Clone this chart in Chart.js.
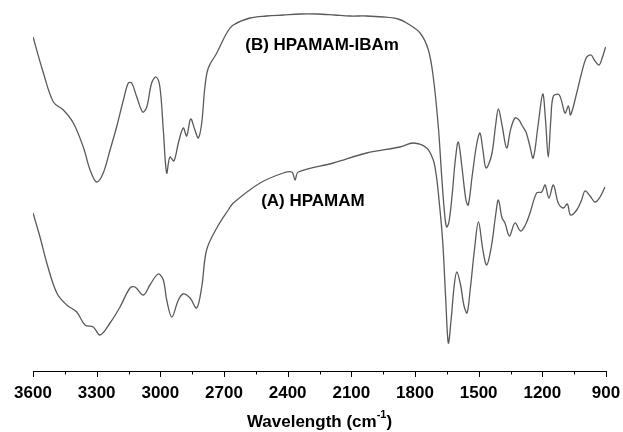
<!DOCTYPE html>
<html>
<head>
<meta charset="utf-8">
<script src="https://cdn.jsdelivr.net/npm/chart.js@4"></script>
<style>
html,body{margin:0;padding:0;background:#fff;}
#wrap{width:623px;height:432px;}
</style>
</head>
<body>
<div id="wrap"><canvas id="c" width="623" height="432"></canvas></div>
<script>
// Wavenumbers (cm-1) and transmittance (arbitrary units)
const wavenumbersB = [3600,3551,3504,3457,3410,3363,3331,3300,3269,3237,3206,3174,3151,3135,3111,3083,3064,3041,3020,3002,2986,2970,2955,2936,2915,2892,2876,2857,2837,2821,2805,2790,2774,2734,2687,2656,2577,2500,2421,2340,2263,2180,2106,2030,1949,1880,1839,1776,1737,1714,1690,1674,1660,1651,1640,1625,1610,1596,1580,1560,1549,1530,1510,1494,1480,1465,1439,1420,1407,1390,1368,1350,1329,1310,1297,1277,1260,1243,1220,1198,1185,1172,1160,1148,1120,1093,1077,1067,1038,1015,991,970,955,933,918,902];
const transB = [334,298,269,261,248,224,201,189,198,221,244,271,288,288,274,259,264,288,294,284,241,198,214,210,228,243,235,252,241,233,248,284,303,318,338,346,353,355,356,357,357,356,355,355,354,352,348,338,321,294,244,194,156,144,149,176,211,229,206,171,166,196,226,238,221,203,216,246,262,246,223,241,253,251,246,239,226,213,246,277,251,214,251,275,276,258,265,256,278,298,314,316,311,306,313,324];
const wavenumbersA = [3600,3567,3535,3488,3441,3394,3355,3316,3284,3237,3190,3143,3119,3080,3049,3010,2986,2970,2946,2915,2892,2860,2829,2805,2782,2734,2680,2656,2530,2421,2380,2365,2350,2185,2028,1871,1808,1745,1714,1700,1690,1670,1655,1643,1630,1615,1603,1585,1570,1555,1540,1520,1501,1480,1462,1439,1420,1407,1390,1376,1355,1329,1302,1280,1258,1227,1203,1187,1169,1148,1125,1101,1082,1067,1038,1015,999,975,952,928,905];
const transA = [158,134,108,78,66,59,46,44,36,48,64,83,84,76,86,97,91,71,54,71,77,73,63,84,121,143,161,168,188,198,199,191,199,208,218,224,228,223,211,196,178,131,71,28,51,86,99,86,66,58,81,121,149,121,106,126,156,171,153,148,135,148,140,146,158,178,179,186,173,186,168,163,167,156,161,171,180,175,169,174,184];
const xTickValues = [3600,3300,3000,2700,2400,2100,1800,1500,1200,900];
const seriesLabels = ["(A) HPAMAM", "(B) HPAMAM-IBAm"];
const xTitle = "Wavelength (cm";
const xTitleSup = "-1";

const toPts = (xs, ys) => xs.map((x, i) => ({x: x, y: ys[i]}));
const FONT = '"Liberation Sans", Arial, sans-serif';

const overlay = {
  id: 'overlay',
  afterDraw(chart) {
    const ctx = chart.ctx;
    const xs = chart.scales.x, ys = chart.scales.y;
    const axisY = chart.chartArea.bottom;
    ctx.save();
    ctx.strokeStyle = '#000';
    ctx.lineWidth = 1;
    for (let v = 900; v <= 3600; v += 150) {
      const px = Math.round(xs.getPixelForValue(v)) + 0.5;
      const major = (v % 300 === 0);
      ctx.beginPath();
      ctx.moveTo(px, axisY);
      ctx.lineTo(px, axisY + (major ? 6 : 3.5));
      ctx.stroke();
    }
    ctx.fillStyle = '#000';
    ctx.font = 'bold 17px ' + FONT;
    ctx.textAlign = 'center';
    ctx.textBaseline = 'middle';
    ctx.fillText(seriesLabels[1], xs.getPixelForValue(2238), ys.getPixelForValue(326));
    ctx.fillText(seriesLabels[0], xs.getPixelForValue(2281), ys.getPixelForValue(170));
    const cx = (chart.chartArea.left + chart.chartArea.right) / 2;
    const ty = 422;
    ctx.font = 'bold 17px ' + FONT;
    const w1 = ctx.measureText(xTitle).width;
    ctx.font = 'bold 11px ' + FONT;
    const w2 = ctx.measureText(xTitleSup).width;
    ctx.font = 'bold 17px ' + FONT;
    const w3 = ctx.measureText(')').width;
    const total = w1 + w2 + w3;
    let x0 = cx - total / 2;
    ctx.textAlign = 'left';
    ctx.fillText(xTitle, x0, ty);
    ctx.font = 'bold 11px ' + FONT;
    ctx.fillText(xTitleSup, x0 + w1, ty - 7);
    ctx.font = 'bold 17px ' + FONT;
    ctx.fillText(')', x0 + w1 + w2, ty);
    ctx.restore();
  }
};

new Chart(document.getElementById('c'), {
  type: 'line',
  data: {
    datasets: [
      {label: seriesLabels[1], data: toPts(wavenumbersB, transB), borderColor: '#5a5a5a', borderWidth: 1.3, pointRadius: 0, tension: 0.35, fill: false},
      {label: seriesLabels[0], data: toPts(wavenumbersA, transA), borderColor: '#5a5a5a', borderWidth: 1.3, pointRadius: 0, tension: 0.35, fill: false}
    ]
  },
  options: {
    responsive: false,
    animation: false,
    events: [],
    layout: {padding: {left: 33, right: 17, top: 5, bottom: 0}},
    plugins: {legend: {display: false}, tooltip: {enabled: false}, title: {display: false}},
    scales: {
      x: {
        type: 'linear',
        reverse: true,
        min: 900, max: 3600,
        afterBuildTicks: (s) => { s.ticks = xTickValues.map(v => ({value: v})); },
        afterFit: (s) => { s.height = 61; s.paddingLeft = 0; s.paddingRight = 0; },
        grid: {display: false, drawTicks: false},
        border: {display: true, color: '#000', width: 1},
        ticks: {color: '#000', font: {family: FONT, size: 17, weight: 'bold'}, padding: 12, maxRotation: 0, autoSkip: false, callback: (v) => String(v)}
      },
      y: {
        display: false,
        min: 0, max: 366
      }
    }
  },
  plugins: [overlay]
});
</script>
</body>
</html>
